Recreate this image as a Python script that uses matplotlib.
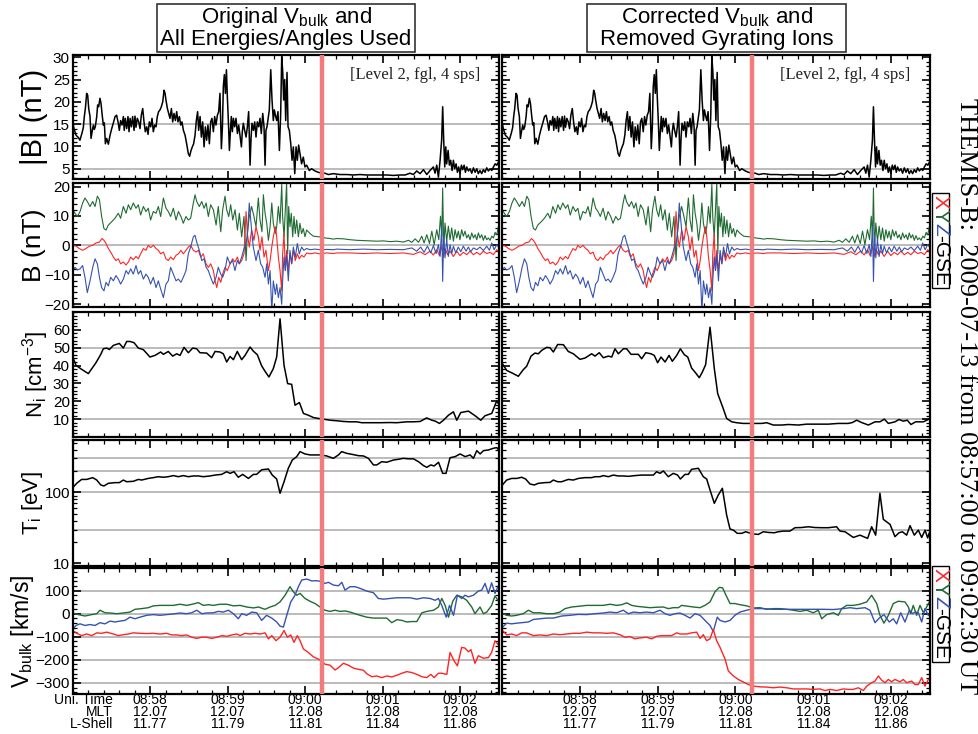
import numpy as np
import matplotlib.pyplot as plt
from matplotlib.patches import Rectangle
from matplotlib.transforms import blended_transform_factory
from matplotlib.ticker import MultipleLocator, FixedLocator, LogLocator, NullFormatter, FixedFormatter

plt.rcParams['font.family'] = ['Liberation Sans', 'DejaVu Sans']
plt.rcParams['mathtext.fontset'] = 'custom'
plt.rcParams['mathtext.rm'] = 'Liberation Sans'
plt.rcParams['mathtext.it'] = 'Liberation Sans:italic'

# time axis: seconds after 08:57:00
event_t = 193.0
tick_t = [60, 120, 180, 240, 300]
tick_time = ['08:58', '08:59', '09:00', '09:01', '09:02']
tick_mlt = ['12.07', '12.07', '12.08', '12.08', '12.08']
tick_lshell = ['11.77', '11.79', '11.81', '11.84', '11.86']

# FGM |B| (nT), 4 sps
bmag = [(0.0, 15.5), (1.0, 14.0), (2.6, 12.5), (4.4, 12.0), (5.6, 11.4), (7.2, 13.0), (8.2, 14.2),
        (9.0, 16.7), (9.8, 18.5), (10.8, 21.9), (11.6, 21.5), (12.4, 18.5), (13.4, 16.7), (14.2, 11.8),
        (15.2, 13.6), (16.0, 14.8), (16.7, 13.8), (17.5, 14.4), (18.6, 16.7), (19.3, 19.3), (20.1, 18.9),
        (21.1, 20.8), (21.9, 19.7), (22.7, 17.4), (23.7, 14.8), (24.5, 15.3), (25.3, 10.6), (26.3, 11.8),
        (27.6, 10.5), (28.9, 12.5), (30.2, 14.0), (31.5, 15.3), (32.8, 16.7), (34.0, 17.0), (35.3, 15.2),
        (36.1, 13.6), (37.1, 15.8), (38.2, 14.8), (39.2, 16.7), (39.9, 13.6), (40.7, 16.3), (41.8, 14.0),
        (42.8, 16.7), (43.6, 13.3), (44.4, 16.3), (45.4, 14.4), (46.4, 16.7), (47.5, 13.6), (48.2, 16.8),
        (49.0, 14.3), (50.0, 16.3), (51.1, 15.5), (52.1, 14.0), (53.1, 17.0), (54.2, 18.5), (55.2, 15.5),
        (56.2, 13.3), (57.3, 14.4), (58.3, 12.7), (59.3, 15.5), (60.4, 14.4), (61.4, 16.3), (62.4, 13.3),
        (63.5, 14.8), (64.5, 14.4), (65.5, 16.7), (66.5, 17.8), (67.6, 18.2), (68.6, 18.9), (69.7, 20.0),
        (70.7, 22.6), (71.5, 21.9), (72.2, 20.4), (73.3, 18.5), (74.3, 17.4), (75.3, 16.3), (76.4, 18.5),
        (77.4, 15.5), (78.4, 17.4), (79.5, 15.8), (80.5, 17.8), (81.5, 15.5), (82.6, 16.7), (83.6, 14.8),
        (84.6, 15.5), (85.7, 13.6), (87.0, 12.5), (88.2, 10.6), (89.5, 8.4), (90.5, 7.8), (91.6, 9.1),
        (92.6, 9.9), (93.6, 10.6), (94.7, 12.5), (95.7, 15.8), (96.7, 17.8), (97.5, 13.6), (98.6, 16.7),
        (99.6, 12.1), (100.6, 15.5), (101.7, 9.9), (102.7, 14.4), (103.7, 11.4), (104.7, 14.8),
        (105.8, 10.6), (106.8, 15.5), (107.8, 16.3), (108.9, 13.3), (109.9, 16.7), (110.9, 14.8),
        (112.0, 17.0), (113.0, 17.8), (114.0, 21.9), (115.1, 9.5), (115.9, 14.4), (116.6, 23.4),
        (117.4, 26.1), (118.2, 21.9), (119.0, 27.2), (119.7, 21.2), (120.5, 15.8), (121.3, 9.1),
        (122.1, 13.6), (122.8, 16.7), (123.6, 13.3), (124.4, 16.3), (125.4, 14.4), (126.4, 16.3),
        (127.5, 12.9), (128.5, 14.8), (129.5, 12.5), (130.6, 9.9), (131.3, 13.3), (132.1, 15.2),
        (133.1, 13.6), (134.2, 12.1), (135.2, 14.4), (136.2, 17.8), (137.3, 5.8), (138.1, 12.1),
        (138.8, 15.2), (139.9, 13.6), (140.9, 15.5), (141.9, 12.1), (142.9, 15.5), (144.0, 14.4),
        (145.0, 16.3), (146.0, 12.9), (147.1, 17.4), (148.1, 14.4), (148.9, 5.8), (149.6, 13.6),
        (150.4, 14.4), (151.5, 16.7), (152.2, 18.2), (153.3, 27.2), (154.3, 20.4), (155.3, 15.8),
        (156.1, 18.2), (156.9, 17.0), (157.9, 15.8), (158.9, 17.8), (160.0, 9.1), (161.0, 17.4),
        (161.8, 30.2), (162.6, 26.6), (163.3, 20.4), (164.1, 25.0), (164.9, 15.8), (165.9, 26.6),
        (166.7, 14.4), (167.7, 13.6), (168.8, 10.6), (169.8, 6.9), (170.8, 9.9), (171.9, 3.9),
        (172.9, 9.9), (173.9, 6.9), (174.9, 10.3), (177.2, 6.1), (178.5, 7.6), (179.8, 5.4), (181.1, 5.8),
        (183.2, 4.6), (184.9, 5.0), (187.6, 4.5), (190.1, 4.2), (192.7, 4.0), (195.3, 4.0), (197.9, 3.7),
        (201.8, 3.9), (206.9, 3.7), (212.1, 3.7), (217.2, 3.6), (222.4, 3.7), (227.6, 3.6), (232.8, 3.6),
        (237.9, 3.6), (243.1, 3.6), (248.2, 3.5), (253.4, 3.6), (257.3, 3.6), (261.1, 4.0), (263.7, 3.7),
        (266.3, 4.5), (268.9, 3.9), (271.5, 4.8), (274.1, 3.7), (276.6, 4.6), (279.2, 5.4), (280.5, 4.0),
        (281.8, 5.8), (283.1, 3.1), (284.4, 6.9), (285.6, 11.4), (286.4, 18.9), (287.2, 11.4),
        (288.0, 5.4), (288.8, 9.9), (289.5, 6.1), (290.6, 9.1), (291.6, 5.8), (292.6, 6.9), (293.7, 4.6),
        (294.7, 6.9), (295.7, 5.0), (296.8, 6.1), (297.8, 4.2), (298.8, 5.4), (299.8, 3.9), (300.9, 5.8),
        (301.9, 4.8), (303.0, 5.8), (304.0, 4.2), (305.0, 5.4), (306.3, 4.5), (307.6, 5.0), (308.9, 4.0),
        (310.2, 5.2), (311.5, 4.2), (312.8, 5.0), (314.0, 3.9), (315.3, 4.6), (316.6, 3.9), (317.9, 4.8),
        (319.2, 4.2), (320.5, 5.2), (321.8, 4.5), (323.1, 5.0), (324.4, 4.6), (325.7, 5.4), (327.0, 6.1),
        (328.3, 5.8), (329.6, 6.5)]

# FGM components, GSE (nT)
bx = [(0.0, 0.0), (2.6, -0.3), (5.1, -1.1), (7.7, -1.7), (10.3, -1.1), (12.9, -0.3), (15.5, 0.0),
      (18.0, 0.8), (20.7, 1.1), (22.7, 2.3), (24.2, 1.7), (25.8, 0.6), (27.6, -1.1), (29.4, -2.3),
      (31.5, -4.0), (33.5, -5.2), (35.3, -4.6), (37.1, -6.3), (39.2, -5.7), (41.3, -6.7), (43.1, -5.7),
      (44.9, -4.0), (46.9, -4.9), (49.0, -3.8), (50.8, -4.6), (52.6, -2.9), (54.7, -1.1), (56.7, -1.7),
      (58.5, 0.0), (60.3, -0.8), (62.4, 0.0), (64.5, -1.1), (66.3, -1.7), (68.1, -2.9), (70.2, -2.3),
      (72.2, -4.6), (74.0, -5.2), (75.8, -4.0), (77.9, -4.9), (80.0, -3.4), (81.8, -2.9), (83.8, -1.7),
      (85.6, -2.9), (87.7, -1.7), (89.5, -0.6), (91.3, 0.0), (93.4, -1.7), (95.4, -2.3), (97.3, -1.7),
      (99.1, -4.0), (101.1, -2.9), (103.2, -6.3), (105.0, -7.5), (106.8, -6.3), (108.9, -8.6),
      (110.2, -12.1), (111.5, -14.4), (113.0, -10.9), (114.6, -12.6), (116.1, -9.8), (117.9, -7.5),
      (119.7, -8.6), (121.8, -6.3), (123.8, -4.6), (125.6, -5.7), (127.5, -4.0), (129.0, -6.3),
      (130.8, -5.2), (132.6, -2.9), (134.2, 11.5), (135.2, 4.0), (136.7, -0.6), (138.5, 5.2),
      (140.3, 1.7), (141.9, 6.3), (143.7, 2.9), (145.0, -1.7), (146.5, 2.9), (148.1, -4.0),
      (149.6, -1.7), (151.5, -8.6), (152.8, -5.2), (154.1, -0.6), (155.3, 2.9), (156.9, 6.3),
      (157.9, 2.9), (159.2, -4.0), (160.5, -8.6), (161.8, -15.5), (162.5, -2.9), (163.6, 4.0),
      (164.6, -8.6), (165.6, -1.7), (166.9, -8.6), (168.2, -2.9), (169.5, -6.3), (170.8, -1.7),
      (172.3, -5.2), (173.9, -2.9), (175.4, -4.6), (177.2, -3.4), (179.0, -4.0), (181.1, -2.6),
      (183.7, -2.9), (187.6, -2.6), (191.5, -2.9), (196.6, -2.6), (201.8, -2.8), (204.4, -2.6),
      (214.7, -2.6), (225.0, -2.8), (235.4, -2.6), (245.7, -2.8), (256.0, -2.6), (263.7, -3.1),
      (268.9, -2.2), (272.8, -3.2), (276.6, -2.0), (279.2, -3.3), (281.8, -1.5), (283.9, -3.5),
      (285.7, -0.3), (287.0, -3.8), (288.5, -1.2), (290.1, -3.2), (292.1, -2.0), (294.7, -3.8),
      (297.3, -2.0), (299.8, -3.5), (302.4, -2.4), (305.0, -3.2), (307.6, -2.0), (310.2, -3.2),
      (312.8, -2.4), (315.3, -3.2), (317.9, -2.0), (320.5, -2.8), (323.1, -2.4), (325.7, -3.2),
      (328.3, -1.5), (330.0, -2.6)]

by = [(0.0, 12.1), (1.8, 10.9), (3.6, 9.8), (5.7, 11.5), (7.7, 14.4), (9.5, 16.1), (11.3, 14.9),
      (13.4, 13.2), (15.5, 14.9), (17.3, 13.2), (19.1, 16.7), (20.7, 15.5), (22.4, 9.8), (24.2, 5.7),
      (25.8, 5.2), (27.6, 6.9), (30.2, 8.0), (32.7, 9.2), (35.3, 10.9), (37.1, 9.2), (39.2, 13.2),
      (41.3, 10.9), (43.1, 13.8), (44.9, 12.1), (46.9, 14.4), (49.0, 12.6), (50.8, 13.8), (52.6, 10.3),
      (54.7, 13.2), (56.7, 11.5), (58.5, 12.6), (60.3, 8.6), (62.4, 11.5), (64.5, 10.9), (66.3, 13.2),
      (68.1, 9.8), (70.2, 16.1), (72.2, 12.6), (74.0, 11.5), (75.8, 9.8), (77.9, 12.6), (80.0, 8.6),
      (81.8, 11.5), (83.8, 9.8), (85.6, 7.5), (87.7, 9.8), (89.5, 8.6), (91.3, 9.2), (93.4, 14.4),
      (94.7, 17.2), (96.0, 14.9), (98.0, 13.2), (99.9, 14.9), (101.7, 12.6), (103.3, 14.4), (105.0, 9.8),
      (106.8, 13.8), (108.9, 12.1), (111.0, 6.9), (112.7, 13.2), (114.6, 4.6), (116.1, 12.1),
      (117.9, 16.7), (119.2, 12.1), (120.8, 9.8), (122.3, 13.8), (123.9, 8.6), (125.7, 12.1),
      (127.5, 5.2), (129.0, 10.9), (130.8, 2.9), (132.6, 9.8), (134.2, -5.2), (135.2, 4.0),
      (136.7, 9.8), (138.5, 13.2), (140.3, 9.8), (141.9, 6.3), (143.7, 16.1), (145.0, 8.6),
      (146.5, 4.6), (147.6, 17.2), (148.9, 10.9), (150.2, 7.5), (151.5, 1.7), (152.8, 6.3),
      (154.1, 14.4), (155.3, 7.5), (156.9, 4.0), (157.9, 6.3), (159.2, 13.2), (160.5, 7.5),
      (161.8, 20.7), (162.5, 9.8), (163.6, 2.9), (164.6, 12.1), (165.6, 21.3), (166.4, -2.9),
      (167.2, 13.2), (168.2, 6.3), (169.2, 10.9), (170.3, 2.9), (171.3, 9.8), (172.3, 4.0),
      (173.4, 8.6), (174.7, 2.9), (175.9, 7.5), (177.2, 4.0), (178.5, 5.7), (179.8, 2.9), (181.1, 5.2),
      (183.7, 4.0), (186.3, 3.1), (190.2, 2.9), (192.7, 2.9), (195.3, 2.5), (199.2, 2.3), (201.8, 2.1),
      (204.4, 2.3), (209.5, 2.2), (214.7, 1.9), (219.9, 1.7), (225.0, 1.6), (230.2, 1.5), (235.4, 1.4),
      (240.5, 1.5), (245.7, 1.25), (250.9, 1.4), (256.0, 1.1), (259.9, 1.7), (262.5, 1.0), (265.1, 2.2),
      (267.7, 1.0), (270.2, 3.1), (272.0, 0.8), (274.1, 3.6), (276.2, 0.6), (278.0, 4.8), (279.8, 0.2),
      (281.8, 5.3), (283.4, 1.9), (284.7, 9.9), (285.7, 3.1), (286.4, 19.5), (287.2, -1.5),
      (288.2, 7.6), (289.5, 1.4), (290.8, 6.5), (292.1, 1.9), (293.4, 5.9), (294.7, 1.4), (296.0, 5.3),
      (297.3, 2.5), (298.5, 4.8), (299.8, 1.9), (301.1, 5.3), (302.4, 3.1), (303.7, 4.8), (305.0, 2.5),
      (306.3, 3.6), (307.6, 1.9), (308.9, 4.2), (310.2, 2.5), (311.5, 3.6), (312.8, 1.9), (314.0, 4.2),
      (315.3, 2.5), (316.6, 3.6), (317.9, 1.7), (319.2, 3.3), (320.5, 1.9), (321.8, 2.5), (323.1, 1.7),
      (324.4, 3.1), (325.7, 2.5), (327.0, 4.4), (328.3, 3.6), (329.6, 6.5)]

bz = [(0.0, -8.6), (1.8, -7.5), (3.6, -8.4), (5.7, -8.0), (7.7, -6.9), (9.5, -10.9), (11.3, -16.1),
      (13.4, -12.1), (15.5, -7.5), (17.3, -4.6), (19.1, -6.3), (20.7, -10.9), (22.4, -14.4),
      (24.2, -15.5), (25.8, -12.6), (27.6, -13.8), (29.4, -10.9), (31.5, -12.1), (33.5, -10.3),
      (35.3, -11.5), (37.1, -13.2), (39.2, -11.5), (41.3, -8.6), (43.1, -9.8), (44.9, -8.0),
      (46.9, -9.8), (49.0, -6.9), (50.8, -9.8), (52.6, -8.6), (54.7, -11.5), (56.7, -9.8),
      (58.5, -10.9), (60.3, -13.2), (62.4, -10.9), (64.5, -14.4), (66.3, -12.1), (68.1, -14.9),
      (70.2, -17.8), (72.2, -13.2), (74.0, -12.1), (75.8, -7.5), (77.9, -9.8), (80.0, -12.1),
      (81.8, -11.5), (83.8, -12.6), (85.6, -10.9), (87.7, -8.6), (89.5, -2.9), (91.3, -0.6),
      (93.4, 2.9), (94.7, 3.4), (96.0, 1.1), (98.0, -1.7), (99.9, -5.2), (101.7, -4.6), (103.3, -7.5),
      (105.0, -8.6), (106.8, -10.9), (108.9, -13.2), (111.0, -10.9), (112.7, -7.5), (114.6, -9.8),
      (116.1, -10.9), (117.9, -8.6), (119.7, -4.0), (121.8, -6.3), (123.8, -5.2), (125.6, -8.6),
      (127.5, -5.2), (129.0, -6.3), (130.8, -4.0), (132.6, -1.1), (134.2, 0.6), (135.2, 3.4),
      (136.7, 14.4), (138.5, 5.2), (139.8, -0.6), (141.9, -5.2), (143.7, -1.7), (145.5, -6.3),
      (147.1, -7.5), (148.9, -10.9), (150.2, -6.3), (151.5, -13.2), (152.8, -8.6), (154.1, -22.4),
      (155.3, -12.1), (156.9, -16.7), (157.9, -13.2), (159.2, -17.8), (160.5, -14.4), (161.8, -20.1),
      (162.5, -12.1), (163.6, -4.0), (164.6, -8.6), (165.6, -2.9), (166.9, -12.1), (168.2, -1.7),
      (169.5, -6.3), (170.8, -0.6), (172.3, -4.0), (173.9, 0.6), (175.4, -2.9), (177.2, -0.6),
      (179.0, -1.7), (181.1, -1.1), (183.7, -1.5), (187.6, -1.3), (191.5, -1.5), (196.6, -1.4),
      (201.8, -1.5), (204.4, -1.3), (214.7, -1.5), (225.0, -1.3), (235.4, -1.5), (245.7, -1.4),
      (256.0, -1.5), (262.5, -0.9), (266.3, -2.0), (269.4, -0.6), (272.0, -2.4), (274.6, -0.3),
      (277.2, -2.6), (279.2, -0.1), (281.3, -2.8), (283.1, 0.2), (284.4, -3.8), (285.7, 6.5),
      (286.4, -12.3), (287.2, 3.1), (288.2, -4.3), (289.5, 1.9), (290.8, -3.8), (292.1, 0.2),
      (293.4, -2.8), (294.7, -0.3), (296.5, -2.6), (298.5, -0.6), (300.4, -2.2), (302.4, -0.3),
      (304.5, -2.0), (306.3, -0.6), (308.1, -2.2), (310.2, -0.9), (312.8, -1.5), (315.3, -0.6),
      (317.9, -1.8), (320.5, -0.3), (322.6, -1.7), (324.4, 0.8), (326.2, -1.5), (328.3, 0.2),
      (330.0, -0.9)]

# ion density (cm^-3): original moments / corrected moments
ni_orig = [(0.0, 44.8), (2.6, 40.1), (6.9, 37.9), (12.1, 35.5), (18.0, 41.6), (21.6, 46.1), (23.7, 49.4),
           (26.3, 49.8), (28.4, 49.0), (31.5, 51.3), (36.1, 52.4), (39.2, 49.8), (41.8, 53.5), (44.4, 53.5),
           (47.5, 52.8), (50.8, 49.8), (54.7, 48.9), (59.8, 44.8), (63.7, 45.7), (68.1, 47.6), (70.2, 46.3),
           (74.0, 47.9), (77.4, 45.3), (80.5, 46.6), (83.1, 45.7), (86.2, 50.2), (89.5, 47.2), (92.9, 49.8),
           (96.0, 49.4), (98.5, 47.2), (103.7, 47.0), (107.6, 44.4), (110.2, 47.9), (114.0, 47.6),
           (116.6, 46.6), (119.2, 42.0), (121.8, 45.1), (124.4, 43.3), (127.4, 47.9), (130.8, 43.3),
           (133.4, 45.7), (137.3, 50.4), (139.8, 48.1), (142.9, 46.1), (146.3, 39.8), (148.9, 36.8),
           (151.9, 33.6), (155.3, 38.3), (157.9, 44.8), (160.5, 66.2), (163.6, 40.1), (166.4, 29.9),
           (169.5, 29.5), (172.1, 17.8), (175.5, 19.3), (178.6, 13.2), (182.4, 12.2), (186.3, 10.9),
           (190.2, 10.4), (194.0, 10.0), (199.2, 9.4), (204.4, 9.1), (209.6, 8.7), (214.7, 8.5),
           (219.9, 8.5), (223.8, 8.0), (230.2, 8.0), (237.9, 8.0), (245.7, 8.1), (250.9, 8.0), (258.6, 8.5),
           (263.8, 8.5), (269.0, 8.7), (274.0, 10.7), (278.0, 9.4), (280.6, 8.9), (283.9, 7.6), (287.0, 9.4),
           (290.9, 12.2), (294.7, 14.1), (297.3, 9.4), (300.4, 13.7), (306.3, 14.5), (311.5, 11.9),
           (315.9, 9.4), (319.2, 11.9), (324.4, 13.2), (328.2, 20.2), (330.3, 17.8)]

ni_corr = [(0.3, 41.1), (3.6, 37.3), (8.7, 35.5), (12.6, 34.0), (16.4, 37.7), (19.0, 39.6), (22.4, 45.3),
           (25.4, 47.0), (28.0, 46.6), (30.6, 48.5), (34.4, 50.2), (37.0, 50.0), (39.6, 47.6), (42.9, 51.8),
           (47.3, 51.7), (51.1, 47.9), (55.0, 46.6), (60.1, 43.5), (64.0, 44.2), (69.1, 46.6), (71.7, 45.3),
           (75.0, 47.2), (78.1, 44.4), (82.0, 45.3), (84.6, 44.8), (87.1, 49.4), (89.7, 46.6), (93.6, 49.4),
           (96.1, 49.4), (99.5, 46.3), (105.1, 46.3), (107.7, 43.8), (110.8, 47.2), (114.9, 46.6),
           (117.4, 45.7), (120.0, 41.6), (122.6, 44.8), (125.7, 42.0), (128.8, 45.7), (131.3, 42.4),
           (134.7, 45.7), (137.5, 49.4), (140.6, 46.1), (143.2, 44.8), (146.2, 38.6), (149.3, 35.9),
           (152.1, 33.2), (154.5, 36.4), (157.0, 40.5), (160.4, 61.5), (163.7, 38.3), (166.3, 24.3),
           (170.1, 16.9), (173.2, 10.4), (177.1, 8.5), (180.9, 8.0), (186.1, 7.6), (192.5, 7.6), (200.2, 7.6),
           (204.1, 8.0), (209.2, 6.7), (215.6, 6.7), (220.8, 7.0), (228.5, 6.7), (234.9, 7.2), (243.9, 7.2),
           (251.6, 7.2), (259.3, 7.6), (267.0, 7.6), (270.1, 8.1), (273.5, 9.4), (277.3, 8.1), (282.5, 6.7),
           (287.6, 8.5), (291.4, 8.5), (294.8, 10.0), (297.9, 7.6), (303.0, 8.5), (306.1, 9.8), (309.4, 8.9),
           (312.5, 9.4), (315.3, 7.0), (318.9, 8.5), (324.9, 8.5), (328.7, 9.8)]

# ion temperature (eV)
ti_orig = [(0.0, 116), (3.1, 134), (6.9, 152), (10.8, 152), (15.5, 161), (18.6, 149), (21.7, 127),
           (24.2, 123), (27.6, 134), (32.8, 137), (36.1, 137), (39.2, 149), (41.8, 141), (46.9, 143),
           (50.8, 152), (53.4, 149), (58.5, 157), (62.4, 161), (66.3, 166), (70.2, 163), (74.0, 166),
           (77.9, 172), (81.8, 166), (85.6, 172), (89.5, 166), (93.4, 170), (97.3, 170), (101.1, 166),
           (106.3, 170), (110.2, 175), (115.3, 179), (119.2, 195), (121.8, 185), (124.9, 195), (128.2, 163),
           (131.6, 179), (136.0, 157), (139.9, 179), (142.4, 179), (146.3, 208), (151.5, 213), (154.5, 175),
           (157.9, 154), (160.5, 97), (163.6, 141), (166.9, 218), (170.0, 285), (173.4, 318), (176.0, 374),
           (179.8, 347), (183.7, 336), (187.6, 336), (191.5, 336), (196.6, 325), (201.8, 301), (205.7, 336),
           (208.2, 374), (212.1, 354), (216.0, 343), (221.2, 328), (225.1, 325), (228.9, 301), (232.8, 243),
           (235.4, 243), (239.2, 270), (243.1, 265), (248.3, 285), (252.2, 292), (256.0, 301), (259.9, 296),
           (263.8, 296), (267.7, 270), (271.5, 238), (274.1, 225), (277.2, 243), (279.8, 235), (283.2, 265),
           (286.4, 185), (289.0, 185), (292.1, 307), (296.0, 318), (299.9, 347), (303.8, 318), (307.6, 336),
           (310.2, 301), (312.8, 386), (315.4, 347), (318.0, 386), (321.9, 395), (325.7, 417), (328.3, 426),
           (330.3, 386)]

ti_corr = [(0.3, 127), (3.6, 149), (7.5, 157), (11.3, 157), (15.2, 163), (18.2, 154), (21.6, 131),
           (24.9, 127), (28.0, 134), (33.2, 137), (37.0, 138), (39.6, 149), (42.9, 141), (46.0, 141),
           (51.1, 152), (55.0, 149), (58.9, 157), (64.0, 161), (69.1, 161), (71.7, 166), (75.6, 166),
           (78.1, 172), (82.0, 166), (85.8, 175), (89.7, 170), (93.5, 170), (97.4, 168), (102.5, 172),
           (107.7, 175), (112.8, 175), (116.7, 175), (119.2, 195), (121.8, 185), (124.4, 200), (128.2, 166),
           (132.1, 185), (135.4, 175), (137.5, 154), (141.1, 179), (143.7, 179), (146.2, 211), (151.4, 218),
           (155.2, 166), (157.8, 154), (160.4, 108), (163.7, 70), (166.8, 92), (169.9, 114), (173.2, 48),
           (175.8, 30.5), (178.4, 29.4), (181.4, 26.5), (184.8, 26.5), (187.9, 27.9), (191.2, 26.7),
           (194.5, 25.9), (197.6, 25.6), (201.5, 27.9), (205.3, 27.3), (210.0, 27.0), (213.0, 27.9),
           (216.9, 28.5), (222.0, 28.5), (225.9, 31.8), (231.0, 32.0), (236.2, 32.8), (241.3, 32.0),
           (246.5, 31.8), (251.6, 31.8), (258.0, 32.8), (260.6, 28.5), (264.5, 27.9), (270.9, 23.2),
           (276.0, 25.0), (281.9, 22.5), (285.0, 32.8), (288.1, 25.0), (291.4, 97), (294.0, 41.7),
           (299.2, 35.4), (303.0, 23.8), (306.1, 27.0), (308.7, 27.9), (312.0, 25.0), (314.6, 34.0),
           (317.9, 25.0), (321.0, 29.4), (323.6, 23.2), (326.2, 29.4), (328.2, 22.8), (329.3, 26.5)]

# bulk velocity GSE (km/s)
vx_orig = [(0.0, -73), (3.1, -85), (6.9, -95), (10.8, -88), (14.7, -95), (18.6, -83), (22.4, -85),
           (26.3, -80), (31.5, -88), (35.3, -95), (39.2, -91), (43.1, -88), (47.0, -83), (52.1, -85),
           (57.3, -86), (62.4, -85), (67.6, -88), (72.7, -85), (76.6, -92), (80.5, -92), (84.4, -95),
           (88.2, -92), (92.1, -102), (96.0, -107), (99.9, -102), (103.7, -102), (107.6, -107), (111.5, -102),
           (115.4, -95), (119.2, -98), (123.1, -92), (127.0, -88), (129.6, -95), (133.4, -85), (137.3, -88),
           (141.2, -85), (145.1, -88), (148.9, -83), (151.5, -109), (154.1, -95), (157.4, -117), (160.5, -102),
           (163.6, -73), (166.2, -102), (168.8, -92), (171.3, -124), (173.9, -95), (176.0, -117),
           (178.6, -153), (182.4, -168), (186.3, -187), (190.2, -197), (192.8, -204), (195.3, -219),
           (199.2, -223), (203.1, -244), (205.7, -234), (209.5, -215), (213.4, -223), (217.3, -236),
           (221.2, -241), (225.0, -245), (227.6, -260), (231.5, -273), (235.4, -270), (239.2, -277),
           (243.1, -270), (247.0, -274), (250.9, -267), (254.8, -258), (258.6, -251), (262.5, -255),
           (266.4, -263), (270.3, -273), (274.1, -277), (277.2, -263), (279.8, -277), (283.1, -258),
           (285.7, -258), (289.6, -263), (292.1, -168), (295.2, -204), (297.8, -226), (301.1, -146),
           (303.7, -149), (306.3, -165), (308.3, -156), (311.4, -215), (314.0, -182), (317.9, -193),
           (321.8, -190), (324.3, -168), (326.9, -117), (330.0, -139)]

vy_orig = [(0.0, 3), (4.4, -4), (9.5, -10), (14.7, -4), (18.6, 0), (21.1, 15), (25.0, 4), (28.9, 3),
           (34.1, 0), (39.2, 3), (44.4, 7), (48.2, 19), (53.4, 22), (58.5, 26), (62.4, 34), (67.6, 36),
           (72.7, 36), (77.9, 36), (83.1, 41), (88.2, 36), (93.4, 42), (97.2, 48), (101.1, 36), (105.0, 39),
           (108.9, 36), (114.0, 41), (119.2, 41), (124.4, 34), (129.6, 36), (134.7, 29), (139.9, 25),
           (143.7, 29), (148.9, 19), (152.8, 29), (156.7, 36), (160.5, 51), (164.4, 80), (168.2, 117),
           (170.8, 95), (173.4, 80), (176.0, 88), (179.8, 66), (183.7, 54), (187.6, 44), (191.5, 29),
           (195.3, 15), (199.2, 10), (203.1, 15), (207.0, 10), (210.8, 12), (214.7, 7), (218.6, 0),
           (222.4, -7), (227.6, -15), (232.8, -19), (238.0, -19), (243.1, -19), (247.0, -39), (250.9, -26),
           (254.8, -29), (258.6, -36), (262.5, -34), (266.4, -34), (270.3, 4), (274.1, 10), (279.3, 15),
           (283.1, 29), (285.7, 66), (288.3, 36), (290.9, -15), (294.2, 54), (297.3, 80), (301.1, 73),
           (305.0, 58), (308.9, 29), (311.4, 0), (315.3, 29), (317.9, 0), (320.5, 7), (324.3, 36),
           (326.9, 77), (330.0, 51)]

vz_orig = [(0.0, -66), (2.6, -51), (5.7, -44), (9.5, -51), (13.4, -47), (17.3, -51), (21.1, -39),
           (25.0, -44), (28.9, -32), (32.8, -36), (36.6, -32), (40.5, -29), (44.4, -15), (48.2, -22),
           (52.1, -15), (57.3, -7), (62.4, -4), (67.6, -7), (72.7, -4), (77.9, -1), (83.1, 3), (88.2, 0),
           (92.1, 4), (96.0, 15), (99.9, 0), (103.7, 3), (108.9, 4), (112.8, 10), (116.6, 7), (120.5, 15),
           (124.4, 0), (128.2, -22), (130.8, 0), (134.7, -7), (138.6, 7), (142.4, 4), (146.3, -29),
           (150.1, -7), (154.1, -19), (157.9, -36), (160.5, -54), (163.1, -58), (165.7, -7), (168.8, 51),
           (172.1, 80), (174.7, 117), (177.3, 146), (181.2, 150), (185.1, 142), (188.9, 143), (192.8, 139),
           (195.3, 131), (197.9, 136), (201.8, 124), (205.7, 121), (208.3, 136), (210.8, 102), (214.7, 117),
           (218.6, 117), (222.4, 110), (227.6, 98), (232.8, 91), (236.6, 66), (240.5, 63), (245.6, 66),
           (250.9, 69), (256.0, 69), (261.2, 69), (266.4, 63), (271.5, 69), (276.7, 66), (280.6, 58),
           (283.1, 66), (285.7, 36), (289.1, -15), (291.7, 36), (294.8, -7), (297.8, 80), (301.1, 66),
           (303.7, 80), (306.3, 73), (310.2, 80), (314.0, 98), (316.6, 102), (319.2, 131), (321.8, 88),
           (324.3, 134), (326.9, 88), (330.0, 127)]

vx_corr = [(0.5, -73), (3.6, -92), (7.5, -88), (11.3, -95), (15.2, -83), (19.0, -83), (24.2, -95),
           (29.3, -92), (34.4, -95), (39.6, -88), (44.7, -91), (49.9, -88), (55.0, -85), (60.1, -85),
           (65.3, -80), (70.4, -83), (75.6, -83), (80.7, -85), (85.8, -83), (91.0, -91), (94.8, -102),
           (98.7, -99), (102.5, -109), (106.4, -105), (111.5, -102), (115.4, -109), (119.2, -98), (123.1, -95),
           (127.0, -95), (130.8, -95), (134.7, -83), (137.2, -88), (142.4, -88), (146.2, -83), (150.1, -80),
           (152.7, -107), (155.2, -91), (157.8, -117), (160.4, -109), (162.9, -69), (165.5, -117),
           (168.1, -146), (172.0, -197), (174.5, -248), (178.4, -270), (182.2, -285), (186.1, -296),
           (190.0, -307), (193.8, -314), (199.0, -317), (204.1, -318), (209.2, -321), (214.3, -318),
           (219.5, -321), (224.6, -326), (229.8, -326), (234.9, -326), (240.0, -328), (245.2, -326),
           (249.0, -333), (252.9, -328), (258.0, -333), (263.2, -326), (267.0, -328), (270.9, -328),
           (274.7, -321), (278.6, -333), (281.2, -314), (285.0, -299), (287.6, -292), (290.2, -270),
           (292.7, -288), (295.3, -299), (297.9, -285), (300.4, -295), (303.0, -285), (306.9, -295),
           (309.4, -285), (312.0, -299), (315.9, -292), (318.4, -307), (321.0, -307), (323.6, -277),
           (326.1, -314), (328.7, -285)]

vy_corr = [(0.5, 0), (3.6, -7), (7.5, -10), (11.3, -7), (16.4, 0), (20.3, 15), (24.2, 4), (29.3, 4),
           (34.4, 0), (39.6, 0), (44.7, 7), (48.6, 22), (53.7, 29), (58.9, 32), (65.3, 36), (71.7, 36),
           (78.1, 36), (83.3, 41), (88.4, 36), (92.3, 39), (96.1, 47), (100.0, 36), (103.8, 32), (109.0, 29),
           (114.1, 26), (119.2, 28), (124.4, 29), (128.2, 22), (132.1, 26), (136.0, 26), (138.5, 36),
           (143.7, 32), (147.5, 29), (152.7, 26), (156.5, 36), (160.4, 51), (164.2, 95), (167.6, 114),
           (170.1, 112), (172.7, 80), (175.8, 44), (179.6, 44), (183.5, 39), (188.6, 34), (193.8, 25),
           (198.9, 26), (204.1, 19), (209.2, 22), (214.3, 22), (219.5, 19), (224.6, 15), (229.8, 10),
           (234.9, 15), (240.0, 4), (243.9, 15), (246.5, -22), (250.3, -4), (255.5, 4), (259.3, -7),
           (261.9, 22), (265.7, 36), (270.9, 36), (276.0, 41), (281.2, 51), (285.0, 80), (288.9, 44),
           (291.4, -7), (294.5, -41), (297.9, -7), (301.7, 44), (305.6, 54), (310.7, 51), (313.3, 29),
           (315.1, 0), (317.1, 36), (319.7, -7), (322.3, 36), (324.9, 4), (327.4, 29), (329.5, 51)]

vz_corr = [(0.5, -58), (3.6, -41), (7.5, -44), (11.3, -41), (15.2, -39), (20.3, -36), (24.2, -25),
           (29.3, -22), (34.4, -19), (39.6, -19), (46.0, -10), (52.4, -7), (58.9, -3), (65.3, -4), (71.7, 0),
           (78.1, 3), (83.3, 7), (88.4, 4), (93.5, 15), (97.4, 0), (101.3, 7), (106.4, 4), (111.5, 7),
           (116.7, 4), (121.8, 15), (125.7, 0), (129.5, -7), (133.4, 0), (137.2, 3), (141.1, -7), (145.0, -19),
           (148.8, 0), (152.7, -7), (156.5, -29), (160.4, -51), (162.9, -77), (166.0, -15), (168.1, -29),
           (172.0, -36), (175.8, -29), (179.6, -7), (183.5, 7), (188.6, 15), (193.8, 22), (201.5, 22),
           (209.2, 19), (216.9, 19), (224.6, 19), (232.3, 19), (240.0, 19), (247.8, 19), (255.5, 18),
           (263.2, 22), (268.3, 26), (273.5, 22), (279.9, 26), (283.7, 15), (287.6, -39), (290.9, -19),
           (294.5, -4), (298.6, -36), (301.7, -22), (304.3, -44), (307.4, 4), (310.7, -36), (314.1, 15),
           (316.6, 0), (318.4, 7), (321.0, 4), (323.6, -36), (326.1, 22), (328.7, -7)]

RED, GREEN, BLUE = '#ff2424', '#1f6b32', '#3552b0'
EVENT = '#f27c7c'
GRID = '#a8a8a8'

W, H = 979, 734
fig = plt.figure(figsize=(W / 100, H / 100), dpi=100)


def fx(px):
    return px / W


def fy(py):
    return 1 - py / H


cols = [(72.7, 499.0), (502.0, 930.0)]
rows = [(55, 179), (183, 307), (312, 437), (440, 566), (568, 694)]

axes = [[fig.add_axes([fx(x0), fy(y1), fx(x1 - x0), (y1 - y0) / H]) for (x0, x1) in cols]
        for (y0, y1) in rows]


def xy(series):
    t, v = zip(*series)
    return np.array(t), np.array(v)


for c in range(2):
    a_bm, a_b, a_n, a_t, a_v = [axes[r][c] for r in range(5)]

    a_bm.plot(*xy(bmag), color='k', lw=1.1)
    a_bm.set_ylim(2.7, 30.5)
    a_bm.yaxis.set_major_locator(FixedLocator([5, 10, 15, 20, 25, 30]))
    a_bm.yaxis.set_minor_locator(MultipleLocator(1))
    for g in (5, 15):
        a_bm.axhline(g, color=GRID, lw=1.1, zorder=0)
    a_bm.text(0.955, 0.835, '[Level 2, fgl, 4 sps]', transform=a_bm.transAxes, ha='right', va='center',
              fontsize=12, family='Liberation Serif', color='#222222')

    a_b.axhline(0, color=GRID, lw=1.1, zorder=0)
    a_b.plot(*xy(by), color=GREEN, lw=0.8)
    a_b.plot(*xy(bx), color=RED, lw=0.8)
    a_b.plot(*xy(bz), color=BLUE, lw=0.8)
    a_b.set_ylim(-21, 21.2)
    a_b.yaxis.set_major_locator(FixedLocator([-20, -10, 0, 10, 20]))
    a_b.yaxis.set_minor_locator(MultipleLocator(2))

    ni = ni_orig if c == 0 else ni_corr
    a_n.plot(*xy(ni), color='k', lw=1.1)
    a_n.set_ylim(0, 70)
    a_n.yaxis.set_major_locator(FixedLocator([10, 20, 30, 40, 50, 60]))
    a_n.yaxis.set_minor_locator(MultipleLocator(2))
    for g in (10, 50):
        a_n.axhline(g, color=GRID, lw=1.1, zorder=0)

    ti = ti_orig if c == 0 else ti_corr
    a_t.plot(*xy(ti), color='k', lw=1.1)
    a_t.set_yscale('log')
    a_t.set_ylim(9.2, 545)
    a_t.yaxis.set_major_locator(FixedLocator([10, 100]))
    a_t.yaxis.set_major_formatter(FixedFormatter(['10', '100']))
    a_t.yaxis.set_minor_locator(LogLocator(base=10, subs=np.arange(2, 10)))
    a_t.yaxis.set_minor_formatter(NullFormatter())
    for g in (30, 100, 200, 300):
        a_t.axhline(g, color=GRID, lw=1.1, zorder=0)

    vx, vy, vz = (vx_orig, vy_orig, vz_orig) if c == 0 else (vx_corr, vy_corr, vz_corr)
    for g in (-300, -200, -100, 0, 100):
        a_v.axhline(g, color=GRID, lw=1.1, zorder=0)
    a_v.plot(*xy(vy), color=GREEN, lw=1.0)
    a_v.plot(*xy(vz), color=BLUE, lw=1.0)
    a_v.plot(*xy(vx), color=RED, lw=1.0)
    a_v.set_ylim(-348, 198)
    a_v.yaxis.set_major_locator(FixedLocator([-300, -200, -100, 0, 100]))
    a_v.yaxis.set_minor_locator(MultipleLocator(20))

    for r in range(5):
        ax = axes[r][c]
        ax.set_xlim(0, 330)
        ax.xaxis.set_major_locator(FixedLocator(tick_t))
        ax.xaxis.set_minor_locator(MultipleLocator(12))
        ax.axvline(event_t, color=EVENT, lw=3.2, zorder=5)
        ax.tick_params(which='both', direction='in', top=True, right=True, labelbottom=False,
                       labelleft=(c == 0), labelsize=11, pad=2)
        ax.tick_params(which='major', length=6, width=1.2)
        ax.tick_params(which='minor', length=3, width=0.9)
        for s in ax.spines.values():
            s.set_linewidth(1.6)

    # three-row time axis annotation, one block per tick
    tr = blended_transform_factory(a_v.transData, fig.transFigure)
    for t, s1, s2, s3 in zip(tick_t, tick_time, tick_mlt, tick_lshell):
        a_v.text(t, fy(712), '\n'.join((s1, s2, s3)), transform=tr, ha='center', va='center',
                 fontsize=10, linespacing=0.82)

fig.text(fx(113), fy(712), 'Uni. Time\nMLT\nL-Shell', ha='right', va='center', fontsize=10,
         linespacing=0.82, multialignment='right')

# y-axis titles
ylabels = [('|B| (nT)', 34, 21), ('B (nT)', 34, 19), (r'N$_\mathrm{i}$ [cm$^{-3}$]', 36, 16),
           (r'T$_\mathrm{i}$ [eV]', 33, 16), (r'V$_\mathrm{bulk}$ [km/s]', 23, 16.5)]
for (lab, xp, fs), (y0, y1) in zip(ylabels, rows):
    fig.text(fx(xp), fy((y0 + y1) / 2), lab, rotation=90, ha='center', va='center', fontsize=fs)

# column titles in boxes
titles = [((157, 415), r'Original V$_\mathrm{bulk}$ and', 'All Energies/Angles Used'),
          ((587, 846), r'Corrected V$_\mathrm{bulk}$ and', 'Removed Gyrating Ions')]
for (x0, x1), l1, l2 in titles:
    fig.patches.append(Rectangle((fx(x0), fy(52)), fx(x1 - x0), 48 / H, transform=fig.transFigure,
                                 fill=False, ec='#333333', lw=1.2))
    fig.text(fx((x0 + x1) / 2), fy(17), l1, ha='center', va='center', fontsize=16)
    fig.text(fx((x0 + x1) / 2), fy(40), l2, ha='center', va='center', fontsize=16)

fig.text(fx(966), fy(396), 'THEMIS-B:  2009-07-13 from 08:57:00 to 09:02:30 UT', rotation=-90,
         ha='center', va='center', fontsize=19, family='Liberation Serif')

# coordinate-system tags beside the vector panels
renderer = fig.canvas.get_renderer()
for ytop in (195, 568):
    y = ytop
    for txt, col in (('X', RED), ('Y', GREEN), ('Z', BLUE), ('-GSE', 'k')):
        tt = fig.text(fx(940.5), fy(y), txt, rotation=-90, ha='center', va='top', color=col, fontsize=15)
        y += tt.get_window_extent(renderer).height
    fig.patches.append(Rectangle((fx(932), fy(y + 2)), fx(17), (y + 2 - ytop + 2) / H,
                                 transform=fig.transFigure, fill=False, ec='k', lw=1.0))

fig.savefig('out.png', dpi=100)
